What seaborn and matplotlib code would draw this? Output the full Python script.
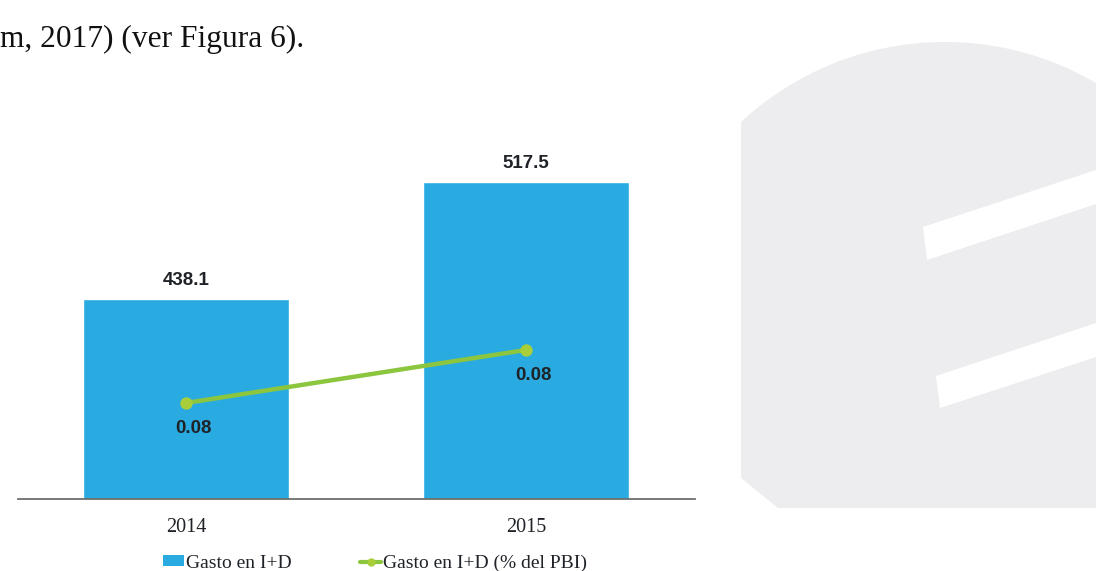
import numpy as np
import pandas as pd
import matplotlib
matplotlib.use("Agg")
import matplotlib.pyplot as plt
from matplotlib.patches import Patch, Polygon
from matplotlib.lines import Line2D
import seaborn as sns

# ---- data ----
years = ["2014", "2015"]
gasto = [438.1, 517.5]            # Gasto en I+D
pct_pbi = [0.076, 0.084]          # Gasto en I+D (% del PBI), both shown as 0.08
legend_labels = ["Gasto en I+D", "Gasto en I+D (% del PBI)"]
header_text = "m, 2017) (ver Figura 6)."

BLUE = "#29ABE2"
GREEN = "#8CC63F"
MARKER = "#A8CF3A"
TXT = "#1f2328"

sns.set_theme(style="white")
plt.rcParams["font.family"] = ["Liberation Serif", "DejaVu Serif"]

W, H = 1096, 571
fig = plt.figure(figsize=(W / 100, H / 100), dpi=100)
fig.patch.set_facecolor("white")

def px(x, y):
    return (x / W, 1 - y / H)

# ---- background watermark shape (scan decoration) ----
p1, p2, p3 = np.array([741, 122.]), np.array([943, 42.]), np.array([1096, 83.])
A = np.array([[p2[0]-p1[0], p2[1]-p1[1]], [p3[0]-p1[0], p3[1]-p1[1]]]) * 2
b = np.array([p2 @ p2 - p1 @ p1, p3 @ p3 - p1 @ p1])
c = np.linalg.solve(A, b)
r = np.linalg.norm(p1 - c)
a1 = np.arctan2(p1[1]-c[1], p1[0]-c[0])
a3 = np.arctan2(p3[1]-c[1], p3[0]-c[0])
angs = np.linspace(a1, a3, 60)
arc = [(c[0] + r*np.cos(t), c[1] + r*np.sin(t)) for t in angs]
shape = arc + [(1096, 508), (778, 508), (741, 478)]
fig.patches.append(Polygon([px(*q) for q in shape], closed=True, transform=fig.transFigure,
                           facecolor="#EDEDEF", edgecolor="none", zorder=0))
for stripe in ([(923, 227), (1096, 170), (1096, 204), (927, 260)],
               [(936, 376), (1096, 323), (1096, 357), (940, 408)]):
    fig.patches.append(Polygon([px(*q) for q in stripe], closed=True, transform=fig.transFigure,
                               facecolor="white", edgecolor="none", zorder=0.5))

fig.text(0.0, 1 - 47 / H, header_text, fontsize=22.6, ha="left", va="baseline",
         color="#111111", family=["Liberation Serif", "DejaVu Serif"])

# ---- chart ----
ax_left, ax_right = 18, 695
ax_top, ax_bottom = 140, 499
ax = fig.add_axes([ax_left / W, 1 - ax_bottom / H, (ax_right - ax_left) / W, (ax_bottom - ax_top) / H])
ax.patch.set_alpha(0)

df = pd.DataFrame({"year": years, "gasto": gasto, "pct": pct_pbi})
sns.barplot(data=df, x="year", y="gasto", color=BLUE, saturation=1, width=0.606, ax=ax, zorder=2)
ax.set_ylim(302.4, 546.0)

ax2 = ax.twinx()
sns.pointplot(data=df, x="year", y="pct", color=GREEN, markers="o", ax=ax2,
              linewidth=3.2, markersize=6.5, markerfacecolor=MARKER, markeredgecolor=MARKER)
ax2.set_ylim(0.0615, 0.1157)
ax.set_xlim(-0.494, 1.497)
ax2.set_xlim(-0.494, 1.497)

for a in (ax, ax2):
    a.set_xlabel("")
    a.set_ylabel("")
    for s in ("top", "right", "left"):
        a.spines[s].set_visible(False)
    a.set_yticks([])
ax2.spines["bottom"].set_visible(False)
ax.spines["bottom"].set_color("#6e6e6e")
ax.spines["bottom"].set_linewidth(1.3)
ax.tick_params(axis="x", length=0, pad=13.5, labelsize=14.5, labelcolor=TXT)
ax2.tick_params(axis="x", length=0, labelbottom=False)

# bar value labels
for i, v in enumerate(gasto):
    ax.annotate(f"{v:.1f}", (i, v), xytext=(0, 13), textcoords="offset points",
                ha="center", va="center", fontsize=13.5, fontweight="bold", color=TXT,
                family=["Liberation Sans", "DejaVu Sans"])
# line value labels
for i, v in enumerate(pct_pbi):
    ax2.annotate(f"{v:.2f}", (i, v), xytext=(5.5, -18.5), textcoords="offset points",
                 ha="center", va="center", fontsize=13.5, fontweight="bold", color=TXT,
                 family=["Liberation Sans", "DejaVu Sans"])

handles = [Patch(facecolor=BLUE, edgecolor="none"),
           Line2D([], [], color=GREEN, lw=3, marker="o", markersize=5,
                  markerfacecolor=MARKER, markeredgecolor=MARKER)]
fig.legend(handles, legend_labels, loc="center left", bbox_to_anchor=px(163, 563),
           bbox_transform=fig.transFigure, ncol=2, frameon=False, fontsize=14,
           handlelength=1.1, handleheight=0.45, handletextpad=0.1, columnspacing=3.5,
           borderpad=0, borderaxespad=0, labelcolor=TXT)

fig.savefig("out.png", dpi=100, facecolor="white")
